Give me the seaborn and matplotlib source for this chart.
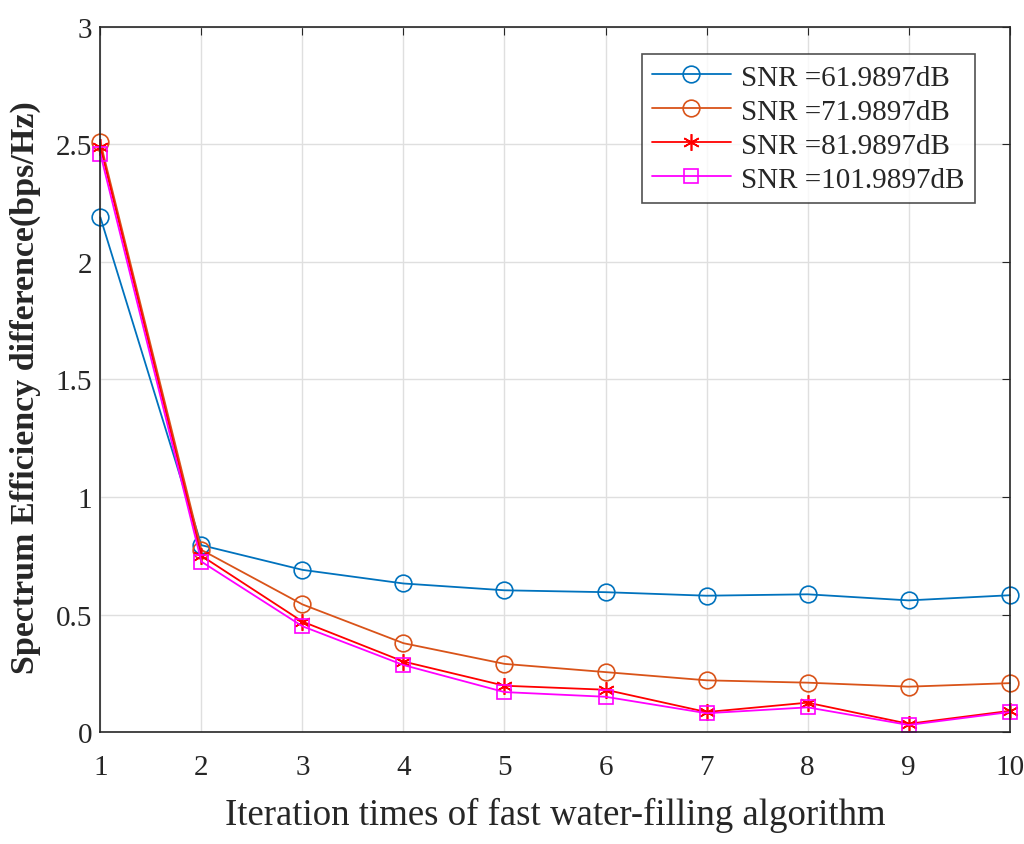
import numpy as np
import pandas as pd
import matplotlib
matplotlib.use('Agg')
import matplotlib.pyplot as plt
import seaborn as sns

iterations = [1, 2, 3, 4, 5, 6, 7, 8, 9, 10]
snr_labels = ['SNR =61.9897dB', 'SNR =71.9897dB', 'SNR =81.9897dB', 'SNR =101.9897dB']
se_61 = [2.19, 0.795, 0.69, 0.632, 0.603, 0.595, 0.58, 0.586, 0.56, 0.582]
se_71 = [2.51, 0.775, 0.543, 0.378, 0.29, 0.255, 0.22, 0.21, 0.193, 0.208]
se_81 = [2.49, 0.75, 0.47, 0.30, 0.197, 0.18, 0.085, 0.125, 0.035, 0.09]
se_101 = [2.46, 0.725, 0.45, 0.285, 0.17, 0.15, 0.08, 0.105, 0.03, 0.085]

df = pd.DataFrame({
    'iter': iterations * 4,
    'se': se_61 + se_71 + se_81 + se_101,
    'snr': np.repeat(snr_labels, len(iterations)),
})

sns.set_style('white')
plt.rcParams['font.family'] = ['Liberation Serif', 'DejaVu Serif']

colors = ['#0072BD', '#D95319', '#FF0000', '#FF00FF']
markers = ['o', 'o', (6, 2, 0), 's']
msizes = [12, 12, 12, 10]

fig = plt.figure(figsize=(10.24, 8.45), dpi=100)
ax = fig.add_axes([0.098, 0.1325, 0.888, 0.8345])

for lab, c, m, ms in zip(snr_labels, colors, markers, msizes):
    sub = df[df['snr'] == lab]
    sns.lineplot(data=sub, x='iter', y='se', ax=ax, color=c, marker=m,
                 markersize=ms, markerfacecolor='none', markeredgecolor=c,
                 markeredgewidth=1.2, linewidth=1.3, label=lab, clip_on=False)

ax.set_xlim(1, 10)
ax.set_ylim(0, 3)
ax.set_xticks(range(1, 11))
ax.set_yticks([0, 0.5, 1, 1.5, 2, 2.5, 3])
ax.set_yticklabels(['0', '0.5', '1', '1.5', '2', '2.5', '3'])
ax.grid(True, color='#DFDFDF', linewidth=1)
ax.tick_params(direction='in', labelsize=21, length=6, color='#262626', pad=6,
               top=True, right=True)
ax.tick_params(axis='x', pad=16)
for sp in ax.spines.values():
    sp.set_color('#262626')
    sp.set_linewidth(1.2)
ax.set_xlabel('Iteration times of fast water-filling algorithm', fontsize=26.5, labelpad=12)
ax.set_ylabel('Spectrum Efficiency difference(bps/Hz)', fontsize=24.5, fontweight='bold')
ax.yaxis.set_label_coords(-0.065, 0.49)

leg = ax.legend(loc='upper right', bbox_to_anchor=(0.9615, 0.9617), borderaxespad=0,
                fontsize=21, frameon=True, fancybox=False, edgecolor='#262626',
                handlelength=2.7, handletextpad=0.35, borderpad=0.35, labelspacing=0.26)
leg.get_frame().set_linewidth(1.2)

fig.savefig('out.png', dpi=100)
